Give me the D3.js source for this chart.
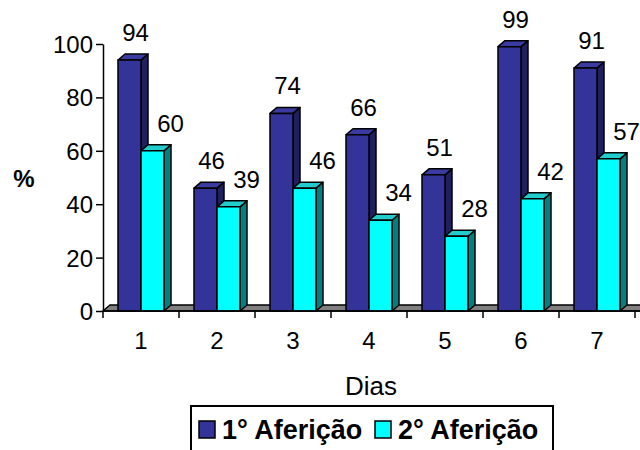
<!DOCTYPE html>
<html>
<head>
<meta charset="utf-8">
<script src="https://cdn.jsdelivr.net/npm/d3@7"></script>
<style>
  html, body { margin: 0; padding: 0; background: #fff; }
  svg { display: block; font-family: Arial, "Liberation Sans", sans-serif; }
</style>
</head>
<body>
<svg id="chart" width="640" height="450"></svg>
<script>
// Daily measurements (%), two rounds per day
const days = ["1", "2", "3", "4", "5", "6", "7"];
const seriesNames = ["1° Aferição", "2° Aferição"];
const afericao1 = [94, 46, 74, 66, 51, 99, 91];
const afericao2 = [60, 39, 46, 34, 28, 42, 57];
const yTicks = [0, 20, 40, 60, 80, 100];

const svg = d3.select("#chart");

const palette = {
  "1° Aferição": { front: "#333399", top: "#3a3aa0", side: "#20205e" },
  "2° Aferição": { front: "#00ffff", top: "#22cccc", side: "#008080" }
};
const labelShift = { "1° Aferição": 6, "2° Aferição": 18 };

// 3D depth offset
const dx = 7, dy = -6;

const x = d3.scaleBand().domain(days).range([103, 635]).padding(0);
const xs = d3.scaleBand().domain(seriesNames).range([0, x.bandwidth()])
  .paddingInner(0).paddingOuter(0.652);
const y = d3.scaleLinear().domain([0, 100]).range([311, 44]);

const rows = days.map((d, i) => ({ day: d, values: [
  { name: seriesNames[0], value: afericao1[i] },
  { name: seriesNames[1], value: afericao2[i] }
]}));

// floor plate
const y0 = y(0);
svg.append("path")
  .attr("d", `M${x.range()[0]},${y0} L${x.range()[0] + dx},${y0 + dy} L${660},${y0 + dy} L${660},${y0} Z`)
  .attr("fill", "#808080").attr("stroke", "#000").attr("stroke-width", 1.5);

// bars
const groups = svg.append("g").selectAll("g").data(rows).join("g")
  .attr("transform", d => `translate(${x(d.day)},0)`);

groups.each(function(row) {
  const g = d3.select(this);
  row.values.forEach(v => {
    const c = palette[v.name];
    const x0 = xs(v.name), w = xs.bandwidth();
    const yt = y(v.value);
    const bar = g.append("g").attr("stroke", "#000").attr("stroke-width", 1.5)
      .attr("stroke-linejoin", "round");
    // side face
    bar.append("path")
      .attr("d", `M${x0 + w},${y0} L${x0 + w + dx},${y0 + dy} L${x0 + w + dx},${yt + dy} L${x0 + w},${yt} Z`)
      .attr("fill", c.side);
    // top face
    bar.append("path")
      .attr("d", `M${x0},${yt} L${x0 + dx},${yt + dy} L${x0 + w + dx},${yt + dy} L${x0 + w},${yt} Z`)
      .attr("fill", c.top);
    // front face
    bar.append("rect")
      .attr("x", x0).attr("y", yt).attr("width", w).attr("height", y0 - yt)
      .attr("fill", c.front);
  });
});

// value labels
groups.each(function(row) {
  const g = d3.select(this);
  row.values.forEach(v => {
    g.append("text")
      .attr("x", xs(v.name) + xs.bandwidth() / 2 + labelShift[v.name])
      .attr("y", y(v.value) - 19)
      .attr("text-anchor", "middle")
      .attr("font-size", 24)
      .attr("fill", "#000")
      .text(v.value);
  });
});

// value axis
const yAxis = svg.append("g").attr("transform", `translate(103,0)`)
  .call(d3.axisLeft(y).tickValues(yTicks).tickSize(7).tickSizeOuter(0));
yAxis.select(".domain").attr("stroke", "#000").attr("stroke-width", 1.5);
yAxis.selectAll(".tick line").attr("stroke", "#000").attr("stroke-width", 1.5);
yAxis.selectAll(".tick text")
  .attr("x", -10).attr("dy", "0.35em")
  .attr("font-size", 24).attr("font-family", "Arial, 'Liberation Sans', sans-serif")
  .attr("fill", "#000");

// category axis
const xAxis = svg.append("g").attr("transform", `translate(0,${y0})`);
xAxis.append("line").attr("x1", 103).attr("x2", 640).attr("y1", 0).attr("y2", 0)
  .attr("stroke", "#000").attr("stroke-width", 1.5);
xAxis.selectAll("line.tk").data(days.concat(["end"])).join("line").attr("class", "tk")
  .attr("x1", (d, i) => 103 + i * x.step()).attr("x2", (d, i) => 103 + i * x.step())
  .attr("y1", 0).attr("y2", 7).attr("stroke", "#000").attr("stroke-width", 1.5);
xAxis.selectAll("text").data(days).join("text")
  .attr("x", d => x(d) + x.bandwidth() / 2)
  .attr("y", 38)
  .attr("text-anchor", "middle").attr("font-size", 24).attr("fill", "#000")
  .text(d => d);

// axis titles
svg.append("text").attr("x", 371).attr("y", 395).attr("text-anchor", "middle")
  .attr("font-size", 26).attr("fill", "#000").text("Dias");
svg.append("text").attr("x", 24).attr("y", 187).attr("text-anchor", "middle")
  .attr("font-size", 24).attr("font-weight", "bold").attr("fill", "#000").text("%");

// legend
const legend = svg.append("g");
legend.append("rect").attr("x", 191).attr("y", 406).attr("width", 362).attr("height", 60)
  .attr("fill", "#fff").attr("stroke", "#000").attr("stroke-width", 2);
const legendX = [199, 375];
seriesNames.forEach((name, i) => {
  legend.append("rect").attr("x", legendX[i]).attr("y", 421).attr("width", 16).attr("height", 17)
    .attr("fill", palette[name].front).attr("stroke", "#000").attr("stroke-width", 1.5);
  legend.append("text").attr("x", legendX[i] + 23).attr("y", 439)
    .attr("font-size", 27).attr("font-weight", "bold").attr("fill", "#000").text(name);
});
</script>
</body>
</html>
